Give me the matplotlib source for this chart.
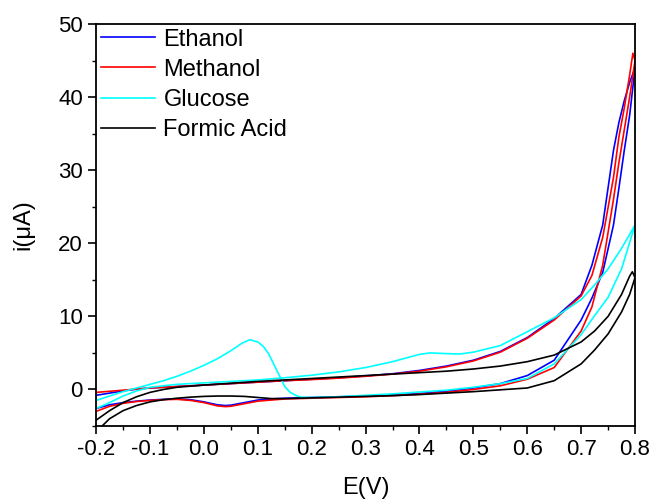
import matplotlib.pyplot as plt
from matplotlib.ticker import MultipleLocator
import numpy as np

plt.rcParams['font.family'] = ['Liberation Sans', 'DejaVu Sans']

# Cyclic voltammograms: each curve = lower branch (-0.2 -> 0.8) + upper branch (0.8 -> -0.2)

# Ethanol
eth_E_low = [-0.2, -0.175, -0.15, -0.125, -0.1, -0.075, -0.05, -0.025, 0.0, 0.025, 0.04, 0.05, 0.075, 0.1,
             0.125, 0.15, 0.2, 0.25, 0.3, 0.35, 0.4, 0.45, 0.5, 0.55, 0.6, 0.65, 0.7, 0.72, 0.74, 0.76,
             0.77, 0.78, 0.79, 0.8]
eth_i_low = [-2.6, -2.1, -1.8, -1.6, -1.45, -1.35, -1.3, -1.4, -1.7, -2.1, -2.2, -2.15, -1.8, -1.45,
             -1.3, -1.2, -1.1, -1.0, -0.9, -0.75, -0.55, -0.25, 0.2, 0.8, 1.9, 4.0, 9.5, 12.5, 16.0, 22.5,
             27.5, 32.7, 37.5, 44.0]
eth_E_up = [0.8, 0.79, 0.78, 0.77, 0.76, 0.74, 0.72, 0.7, 0.65, 0.6, 0.55, 0.5, 0.45, 0.4, 0.35, 0.3,
            0.25, 0.2, 0.15, 0.1, 0.05, 0.0, -0.05, -0.1, -0.125, -0.15, -0.175, -0.2]
eth_i_up = [44.0, 42.0, 39.5, 36.5, 32.7, 22.5, 17.0, 13.0, 9.7, 7.1, 5.2, 4.0, 3.2, 2.6, 2.15, 1.85,
            1.6, 1.4, 1.2, 1.0, 0.8, 0.6, 0.4, 0.2, 0.05, -0.2, -0.5, -0.8]

# Methanol
met_E_low = [-0.2, -0.175, -0.15, -0.125, -0.1, -0.075, -0.05, -0.025, 0.0, 0.025, 0.04, 0.05, 0.075, 0.1,
             0.125, 0.15, 0.2, 0.25, 0.3, 0.35, 0.4, 0.45, 0.5, 0.55, 0.6, 0.65, 0.7, 0.72, 0.74, 0.76,
             0.77, 0.78, 0.79, 0.8, 0.796]
met_i_low = [-3.0, -2.3, -1.9, -1.65, -1.5, -1.4, -1.35, -1.5, -1.8, -2.25, -2.35, -2.3, -1.95, -1.6,
             -1.45, -1.3, -1.2, -1.1, -1.0, -0.85, -0.65, -0.4, 0.0, 0.5, 1.4, 3.0, 8.0, 11.3, 17.0, 26.0,
             31.0, 35.5, 40.0, 45.0, 46.0]
met_E_up = [0.79, 0.78, 0.77, 0.76, 0.74, 0.72, 0.7, 0.65, 0.6, 0.55, 0.5, 0.45, 0.4, 0.35, 0.3,
            0.25, 0.2, 0.15, 0.1, 0.05, 0.0, -0.05, -0.1, -0.125, -0.15, -0.175, -0.2]
met_i_up = [43.0, 38.5, 34.5, 29.0, 20.8, 15.6, 12.8, 9.5, 7.0, 5.1, 3.9, 3.1, 2.5, 2.1, 1.8,
            1.55, 1.35, 1.2, 1.0, 0.8, 0.6, 0.4, 0.2, 0.05, -0.1, -0.25, -0.4]

# Glucose
glu_E_low = [-0.2, -0.175, -0.15, -0.125, -0.1, -0.075, -0.05, -0.025, 0.0, 0.025, 0.05, 0.07, 0.085,
             0.1, 0.11, 0.12, 0.13, 0.14, 0.15, 0.16, 0.17, 0.18, 0.2, 0.25, 0.3, 0.35, 0.4, 0.45, 0.5,
             0.55, 0.6, 0.65, 0.7, 0.725, 0.75, 0.775, 0.8]
glu_i_low = [-1.5, -0.9, -0.3, 0.2, 0.7, 1.2, 1.8, 2.5, 3.3, 4.2, 5.3, 6.3, 6.8,
             6.5, 5.9, 4.9, 3.4, 1.9, 0.4, -0.4, -0.8, -1.05, -1.1, -1.0, -0.8, -0.6, -0.35, -0.1, 0.3,
             0.8, 1.5, 3.5, 7.5, 10.1, 12.6, 16.5, 22.5]
glu_E_up = [0.775, 0.75, 0.725, 0.7, 0.65, 0.6, 0.55, 0.5, 0.475, 0.45, 0.42, 0.4, 0.35, 0.3, 0.25,
            0.2, 0.15, 0.1, 0.05, 0.0, -0.05, -0.1, -0.125, -0.15, -0.175, -0.2]
glu_i_up = [19.3, 16.5, 14.3, 12.3, 9.8, 7.9, 6.0, 5.1, 4.85, 4.9, 5.0, 4.8, 3.8, 3.0, 2.4,
            1.95, 1.6, 1.3, 1.1, 0.9, 0.7, 0.3, -0.2, -0.9, -1.8, -2.6]

# Formic acid
for_E_low = [-0.2, -0.175, -0.15, -0.125, -0.1, -0.075, -0.05, -0.025, 0.0, 0.025, 0.05, 0.075, 0.1,
             0.125, 0.15, 0.2, 0.25, 0.3, 0.35, 0.4, 0.45, 0.5, 0.55, 0.6, 0.65, 0.7, 0.725, 0.75,
             0.775, 0.79, 0.8, 0.795]
for_i_low = [-5.8, -4.0, -2.9, -2.2, -1.7, -1.4, -1.2, -1.05, -0.95, -0.9, -0.9, -0.95, -1.1,
             -1.25, -1.25, -1.15, -1.05, -0.95, -0.85, -0.7, -0.5, -0.3, -0.05, 0.2, 1.2, 3.5, 5.4, 7.6,
             10.6, 13.0, 15.3, 16.1]
for_E_up = [0.79, 0.775, 0.75, 0.725, 0.7, 0.65, 0.6, 0.55, 0.5, 0.45, 0.4, 0.35, 0.3, 0.25, 0.2,
            0.15, 0.1, 0.05, 0.0, -0.05, -0.075, -0.1, -0.125, -0.15, -0.175, -0.2]
for_i_up = [15.5, 13.0, 10.0, 8.0, 6.5, 4.7, 3.8, 3.2, 2.8, 2.5, 2.3, 2.1, 1.9, 1.7, 1.5,
            1.3, 1.1, 0.85, 0.6, 0.3, 0.0, -0.4, -1.0, -1.8, -2.9, -4.2]

labels = ['Ethanol', 'Methanol', 'Glucose', 'Formic Acid']
colors = ['#0000ff', '#ff0000', '#00ffff', '#000000']

curves = [
    (eth_E_low + eth_E_up, eth_i_low + eth_i_up),
    (met_E_low + met_E_up, met_i_low + met_i_up),
    (glu_E_low + glu_E_up, glu_i_low + glu_i_up),
    (for_E_low + for_E_up, for_i_low + for_i_up),
]

fig = plt.figure(figsize=(6.54, 5.0), dpi=100)
ax = fig.add_axes([0.147, 0.148, 0.824, 0.804])

for (E, i), lab, c in zip(curves, labels, colors):
    ax.plot(E, i, color=c, lw=1.2, label=lab)

ax.set_xlim(-0.2, 0.8)
ax.set_ylim(-5, 50)
ax.xaxis.set_major_locator(MultipleLocator(0.1))
ax.xaxis.set_minor_locator(MultipleLocator(0.05))
ax.yaxis.set_major_locator(MultipleLocator(10))
ax.yaxis.set_minor_locator(MultipleLocator(5))
ax.set_xticks(np.arange(-0.2, 0.81, 0.1))
ax.set_xticklabels(['-0.2', '-0.1', '0.0', '0.1', '0.2', '0.3', '0.4', '0.5', '0.6', '0.7', '0.8'])
ax.tick_params(which='major', direction='out', length=6, width=1.2, labelsize=16)
ax.tick_params(which='minor', direction='out', length=3, width=1.0)
for s in ax.spines.values():
    s.set_linewidth(1.3)

ax.set_xlabel('E(V)', fontsize=17, labelpad=12)
ax.set_ylabel('i(μA)', fontsize=17, labelpad=17)

leg = ax.legend(loc='upper left', bbox_to_anchor=(0.0, 1.0), frameon=False, fontsize=17,
                handlelength=2.3, handletextpad=0.35, labelspacing=0.34, borderaxespad=0.0,
                borderpad=0.2)

fig.savefig('out.png', dpi=100)
